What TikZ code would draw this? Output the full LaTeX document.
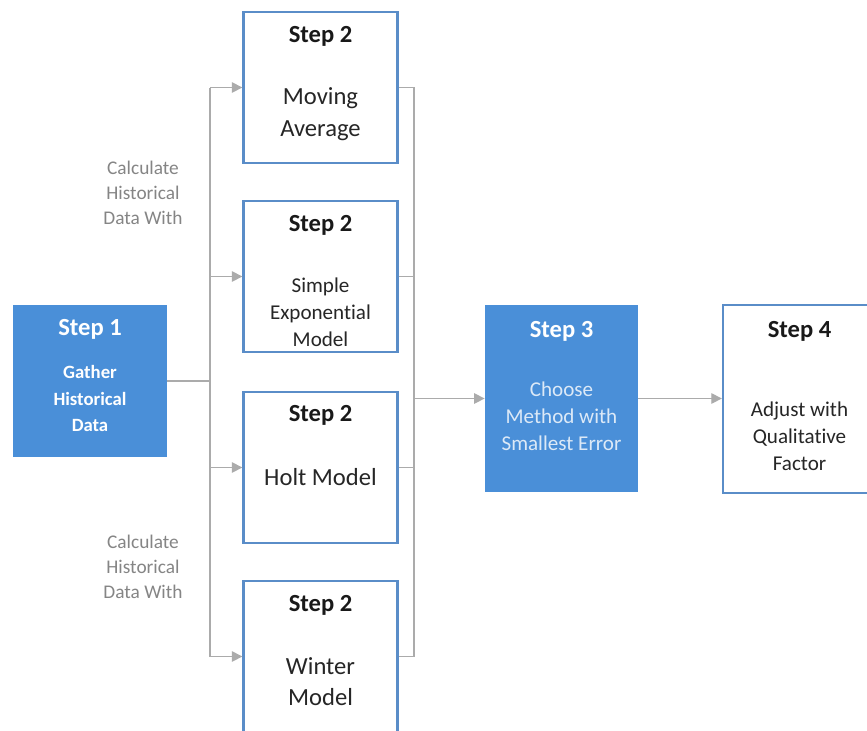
\documentclass[tikz,border=0pt]{standalone}
\usepackage{fontspec}
\setmainfont{Carlito}[Ligatures={NoCommon,NoContextual}, Contextuals=NoAlternate, RawFeature={-liga;-clig;-calt}]
\usetikzlibrary{positioning, arrows.meta, calc}
\definecolor{stepblue}{HTML}{4A8FD8}
\definecolor{edgeblue}{HTML}{5A8DC8}
\definecolor{linegray}{HTML}{ABABAB}
\definecolor{notegray}{HTML}{858585}
\definecolor{paleblue}{HTML}{DCE9F7}

\begin{document}
\begin{tikzpicture}[
  whitebox/.style={
    draw=edgeblue, line width=2pt, fill=white, minimum width=4.62cm,
    minimum height=4.53cm, inner sep=0pt
  },
  bluebox/.style={fill=stepblue, minimum width=4.6cm, inner sep=0pt},
  steptitle/.style={font=\fontsize{21}{25}\selectfont\bfseries, text=black!90},
  body/.style={font=\fontsize{21}{27}\selectfont, align=center, text=black!85},
  smallbody/.style={font=\fontsize{18}{23}\selectfont, align=center, text=black!85},
  note/.style={font=\fontsize{16.5}{21.3}\selectfont, align=center, text=notegray},
  line/.style={linegray, line width=1.2pt},
  arrow/.style={line, -{Triangle[length=9pt, width=9pt]}}
]

\fill[white] (0,0) rectangle (26.01,-21.9);
\useasboundingbox (0,0) rectangle (26.01,-21.9);

% bus lines
\coordinate (busL) at (6.30,0);
\coordinate (busR) at (12.42,0);

% step 1
\node[bluebox, minimum height=4.56cm] (s1) at (2.70,-11.43) {};
\node[steptitle, text=white] (s1t) at (2.70,-9.87) {Step 1};
\node[smallbody, font=\fontsize{16}{22.6}\selectfont\bfseries, text=white] (s1b) at (2.70,-11.955) {Gather\\Historical\\Data};

% step 2 boxes
\node[whitebox] (m1) at (9.615,-2.625) {};
\node[steptitle] (m1t) at (9.615,-1.08) {Step 2};
\node[body] (m1b) at (9.615,-3.42) {Moving\\Average};

\node[whitebox] (m2) at (9.615,-8.295) {};
\node[steptitle] (m2t) at (9.615,-6.75) {Step 2};
\node[smallbody] (m2b) at (9.615,-9.36) {Simple\\Exponential\\Model};

\node[whitebox] (m3) at (9.615,-14.025) {};
\node[steptitle] (m3t) at (9.615,-12.45) {Step 2};
\node[body] (m3b) at (9.615,-14.31) {Holt Model};

\node[whitebox] (m4) at (9.615,-19.695) {};
\node[steptitle] (m4t) at (9.615,-18.15) {Step 2};
\node[body, font=\fontsize{21}{26.5}\selectfont] (m4b) at (9.615,-20.445) {Winter\\Model};

% step 3 and 4
\node[bluebox, minimum height=5.61cm] (s3) at (16.845,-11.955) {};
\node[steptitle, text=white] (s3t) at (16.845,-9.93) {Step 3};
\node[smallbody, text=paleblue] (s3b) at (16.845,-12.48) {Choose\\Method with\\Smallest Error};

\node[whitebox, minimum width=4.59cm, minimum height=5.64cm] (s4) at (23.985,-11.97) {};
\node[steptitle] (s4t) at (23.985,-9.93) {Step 4};
\node[smallbody] (s4b) at (23.985,-13.095) {Adjust with\\Qualitative\\Factor};

% notes
\node[note] (n1) at (4.29,-5.79) {Calculate\\Historical\\Data With};
\node[note] (n2) at (4.29,-17.01) {Calculate\\Historical\\Data With};

% connectors
\draw[line] (s1.east) -- (s1.east -| busL);
\draw[line] (busL |- m1.west) -- (busL |- m4.west);
\foreach \m in {m1, m2, m3, m4}
  \draw[arrow] (busL |- \m.west) -- (\m.west);

\draw[line] (m1.east) -- (m1.east -| busR) -- (m4.east -| busR) -- (m4.east);
\draw[line] (m2.east) -- (m2.east -| busR);
\draw[line] (m3.east) -- (m3.east -| busR);
\draw[arrow] (s3.west -| busR) -- (s3.west);
\draw[arrow] (s3.east) -- (s3.east -| s4.west);

\end{tikzpicture}
\end{document}
